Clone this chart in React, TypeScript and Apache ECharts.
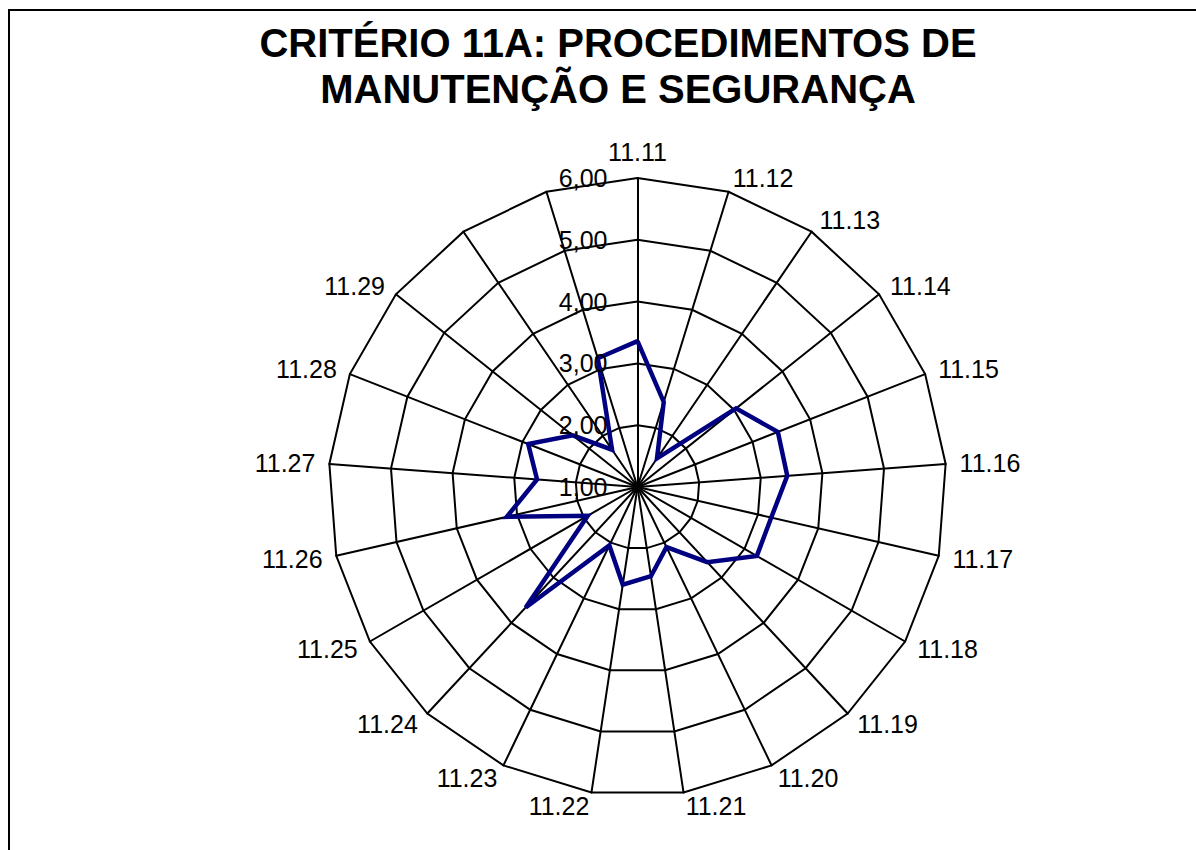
import React, { useEffect, useRef } from "react";
import * as echarts from "echarts";

// Categories in clockwise order starting at the top (last two spokes carry no label)
const categories: string[] = [
  "11.11", "11.12", "11.13", "11.14", "11.15", "11.16", "11.17",
  "11.18", "11.19", "11.20", "11.21", "11.22", "11.23", "11.24",
  "11.25", "11.26", "11.27", "11.28", "11.29", "", "",
];

const values: number[] = [
  3.36, 2.44, 1.56, 3.04, 3.44, 3.43, 3.22,
  3.23, 2.66, 2.08, 2.46, 2.60, 2.05, 3.66,
  1.93, 3.17, 2.63, 2.90, 2.34, 1.73, 3.18,
];

const tickValues: number[] = [1, 2, 3, 4, 5, 6];
const tickLabels: string[] = ["1,00", "2,00", "3,00", "4,00", "5,00", "6,00"];

const AXIS_MIN = 1;
const AXIS_MAX = 6;

const titleText = "CRITÉRIO 11A: PROCEDIMENTOS DE\nMANUTENÇÃO E SEGURANÇA";

const FONT = "Arial, 'Liberation Sans', Helvetica, sans-serif";

export default function App() {
  const ref = useRef<HTMLDivElement>(null);

  useEffect(() => {
    document.body.style.margin = "0";
    if (!ref.current) return;
    const chart = echarts.init(ref.current, undefined, { renderer: "svg" });

    const cx = 637.5;
    const cy = 487;
    const R = 309;

    // ECharts lays indicators counter-clockwise; reverse all but the first to get clockwise order
    const order = [0, ...categories.map((_, i) => i).slice(1).reverse()];
    const indicator = order.map((i) => ({ name: categories[i], min: AXIS_MIN, max: AXIS_MAX }));
    const data = order.map((i) => values[i]);

    const tickTexts = tickValues.map((v, k) => ({
      type: "text",
      x: cx - 30,
      y: cy - ((v - AXIS_MIN) / (AXIS_MAX - AXIS_MIN)) * R,
      style: {
        text: tickLabels[k],
        fill: "#000",
        font: `25px ${FONT}`,
        textAlign: "right",
        textVerticalAlign: "middle",
      },
      z: 10,
    }));

    chart.setOption({
      animation: false,
      backgroundColor: "#fff",
      title: {
        text: titleText,
        left: 613,
        top: 15,
        textAlign: "center",
        textStyle: {
          fontFamily: FONT,
          fontSize: 40,
          fontWeight: "bold",
          color: "#000",
          lineHeight: 46,
        },
      },
      radar: {
        center: [cx, cy],
        radius: R,
        shape: "polygon",
        splitNumber: 5,
        indicator,
        nameGap: 14,
        axisName: {
          color: "#000",
          fontSize: 25,
          fontFamily: FONT,
        },
        axisLine: { lineStyle: { color: "#000", width: 2 } },
        splitLine: { lineStyle: { color: "#000", width: 2 } },
        splitArea: { show: false },
        axisTick: { show: false },
        axisLabel: { show: false },
      },
      series: [
        {
          type: "radar",
          symbol: "none",
          lineStyle: { color: "#000080", width: 4.5, join: "miter" },
          itemStyle: { color: "#000080" },
          data: [{ value: data, name: "Média" }],
          z: 5,
        },
      ],
      graphic: [
        {
          type: "rect",
          shape: { x: 9, y: 10, width: 1400, height: 1100 },
          style: { fill: "none", stroke: "#000", lineWidth: 2 },
          silent: true,
        },
        ...tickTexts,
      ],
    });

    return () => chart.dispose();
  }, []);

  return <div ref={ref} style={{ width: 1196, height: 850 }} />;
}
